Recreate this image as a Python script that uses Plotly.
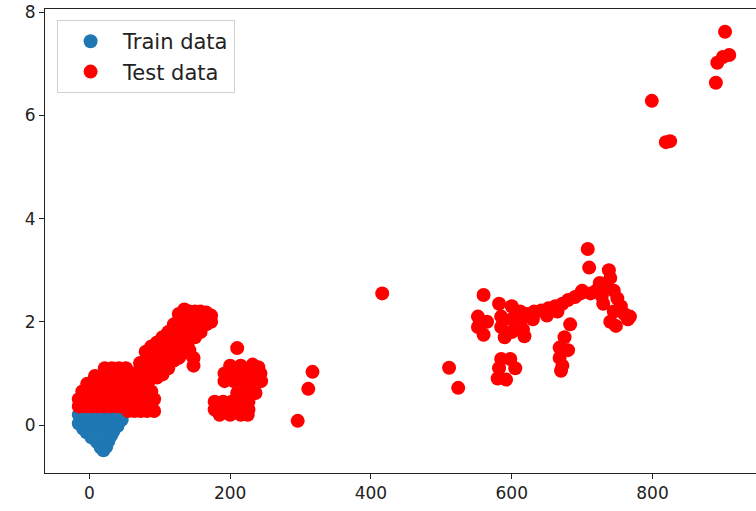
import plotly.graph_objects as go

# ---- Train data (blue) ----
train_x = [-15, -9, -4, 3, 11, 16, 20, 24, 27, 31, 34, 40, 46,
           -15, -5, 5, 15, 25, 10, 20, 0, 10, 20, 30, 35, 45, -8, 5, 18, 28, 38]
train_y = [0.03, -0.07, -0.14, -0.24, -0.33, -0.43, -0.49, -0.42, -0.31, -0.2, -0.12, -0.02, 0.1,
           0.2, 0.1, 0.0, -0.1, -0.05, -0.2, -0.25, 0.15, 0.15, 0.1, 0.05, 0.2, 0.25, 0.3, 0.3, 0.3, 0.3, 0.3]

# ---- Test data (red) ----
# lower-left bulk
bulk_x = [-15, -6, 3, 12, 21, 30, 39, 46,
          55, 64, 73, 82, 92,
          -15, -6, 3, 12, 21, 30, 39, 48, 57, 66, 75, 84, 92,
          -10, 0, 10, 20, 30, 40, 50, 60, 70, 80, 88,
          -3, 7, 17, 27, 37, 47, 57, 67,
          8, 18, 28, 38, 48, 58,
          22, 32, 42, 52]
bulk_y = [0.36, 0.36, 0.36, 0.36, 0.36, 0.36, 0.36, 0.36,
          0.27, 0.27, 0.27, 0.27, 0.27,
          0.5, 0.5, 0.5, 0.5, 0.5, 0.5, 0.5, 0.5, 0.5, 0.5, 0.5, 0.5, 0.5,
          0.65, 0.65, 0.65, 0.65, 0.65, 0.65, 0.65, 0.65, 0.65, 0.65, 0.65,
          0.8, 0.8, 0.8, 0.8, 0.8, 0.8, 0.8, 0.8,
          0.95, 0.95, 0.95, 0.95, 0.95, 0.95,
          1.1, 1.1, 1.1, 1.1]
# diagonal band up to ~170
band_x = [63, 63,
          72, 72, 72,
          80, 80, 80, 80,
          88, 88, 88, 88,
          96, 96, 96, 96, 96,
          104, 104, 104, 104, 104,
          112, 112, 112, 112, 112,
          120, 120, 120, 120, 120,
          127, 127, 127, 127, 127,
          135, 135, 135, 135, 135,
          142, 142, 142, 142, 142,
          148, 148,
          150, 150, 150, 150,
          158, 158, 158,
          166, 166, 166,
          173, 173]
band_y = [0.8, 1.0,
          0.8, 1.0, 1.2,
          0.85, 1.05, 1.25, 1.42,
          0.9, 1.1, 1.3, 1.52,
          0.92, 1.12, 1.32, 1.52, 1.6,
          0.98, 1.18, 1.38, 1.58, 1.7,
          1.1, 1.3, 1.5, 1.7, 1.8,
          1.25, 1.45, 1.65, 1.85, 1.95,
          1.3, 1.5, 1.7, 1.9, 2.15,
          1.4, 1.6, 1.8, 2.0, 2.24,
          1.45, 1.65, 1.85, 2.05, 2.2,
          1.15, 1.3,
          1.7, 1.9, 2.1, 2.2,
          1.8, 2.0, 2.2,
          1.95, 2.1, 2.18,
          2.0, 2.12]
# cluster around 200
c200_x = [210,
          200, 215, 232, 240,
          192, 205, 218, 230, 243,
          192, 205, 218, 230, 244,
          210, 222, 236,
          178, 190, 202, 214, 226,
          178, 190, 202, 214, 226,
          185, 200, 215, 225]
c200_y = [1.49,
          1.15, 1.15, 1.17, 1.12,
          1.0, 1.0, 1.0, 1.0, 1.0,
          0.85, 0.85, 0.85, 0.85, 0.85,
          0.62, 0.62, 0.62,
          0.45, 0.45, 0.45, 0.45, 0.45,
          0.3, 0.3, 0.3, 0.3, 0.3,
          0.2, 0.2, 0.2, 0.2]
# isolated points
iso_x = [296, 311, 317, 416, 511, 524]
iso_y = [0.08, 0.70, 1.03, 2.55, 1.11, 0.72]
# cluster around 600
c600_x = [560, 552, 552, 560, 565,
          582, 585, 585, 590, 600, 600, 600, 612, 612, 616, 618,
          585, 598, 605, 582, 580, 592,
          622, 632, 642, 652, 662, 672, 680, 690, 698, 630, 650, 665,
          683, 675, 668, 668, 672, 670, 680]
c600_y = [2.52, 2.1, 1.9, 1.75, 2.0,
          2.35, 2.1, 1.9, 1.7, 2.3, 2.05, 1.8, 2.2, 2.0, 1.85, 1.72,
          1.28, 1.28, 1.1, 1.1, 0.9, 0.88,
          2.15, 2.2, 2.22, 2.26, 2.3, 2.35, 2.42, 2.48, 2.55, 2.05, 2.12, 2.2,
          1.95, 1.7, 1.5, 1.3, 1.15, 1.05, 1.45]
# cluster around 700-770
c740_x = [708, 710, 738, 740, 735, 720, 728, 745, 750, 755, 760, 765,
          745, 740, 748, 730, 712, 700, 725, 768]
c740_y = [3.41, 3.05, 3.0, 2.85, 2.7, 2.6, 2.5, 2.6, 2.45, 2.3, 2.15, 2.05,
          2.2, 2.0, 1.92, 2.35, 2.55, 2.6, 2.75, 2.1]
# upper-right points
top_x = [799, 819, 825, 890, 892, 900, 909, 903]
top_y = [6.28, 5.48, 5.5, 6.63, 7.02, 7.13, 7.17, 7.62]

test_x = bulk_x + band_x + c200_x + iso_x + c600_x + c740_x + top_x
test_y = bulk_y + band_y + c200_y + iso_y + c600_y + c740_y + top_y

x_ticks = [0, 200, 400, 600, 800]
y_ticks = [0, 2, 4, 6, 8]

fig = go.Figure()
fig.add_trace(go.Scatter(x=train_x, y=train_y, mode="markers", name="Train data",
                         legendgroup="a",
                         marker=dict(color="#1f77b4", size=14, line=dict(width=0))))
fig.add_trace(go.Scatter(x=test_x, y=test_y, mode="markers", name="Test data",
                         legendgroup="b",
                         marker=dict(color="#ff0000", size=14, line=dict(width=0))))

axis_common = dict(showgrid=False, zeroline=False, showline=True, linecolor="#222",
                   linewidth=1, ticks="outside", ticklen=5, tickcolor="#222",
                   automargin=False,
                   tickfont=dict(family="DejaVu Sans", size=17, color="#222"))
fig.update_layout(
    width=756, height=511,
    margin=dict(l=45, r=0, t=9, b=38),
    plot_bgcolor="white", paper_bgcolor="white",
    xaxis=dict(range=[-63, 947], tickvals=x_ticks, mirror=True, **axis_common),
    yaxis=dict(range=[-0.93, 8.06], tickvals=y_ticks, mirror=False, **axis_common),
    legend=dict(x=0.017, y=0.976, xanchor="left", yanchor="top",
                bgcolor="white", bordercolor="#d0d0d0", borderwidth=1,
                font=dict(family="DejaVu Sans", size=21, color="#222"),
                itemwidth=55,
                traceorder="grouped", tracegroupgap=0),
)
fig.write_html("out.html",
               config={"displayModeBar": False},
               post_script="document.body.style.margin='0px';document.body.style.overflow='hidden';")
